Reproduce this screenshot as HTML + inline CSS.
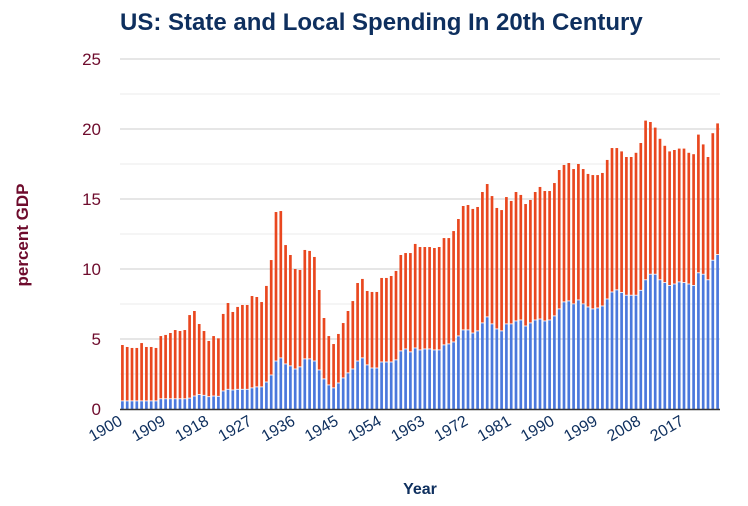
<!DOCTYPE html>
<html><head><meta charset="utf-8"><style>
html,body{margin:0;padding:0;background:#fff;}
svg{display:block;font-family:"Liberation Sans",Arial,sans-serif;}
</style></head><body>
<svg id="chart" width="748" height="506" viewBox="0 0 748 506">
<text x="120" y="30" font-size="24" font-weight="bold" fill="#0e2f5e">US: State and Local Spending In 20th Century</text>
<g id="grid"></g>
<g id="bars"></g>
<g id="yticks"></g>
<g id="xticks"></g>
<text transform="translate(28,235) rotate(-90)" text-anchor="middle" font-size="17" font-weight="bold" fill="#6e0b2c">percent GDP</text>
<text x="420" y="494" text-anchor="middle" font-size="16" font-weight="bold" fill="#0e2f5e">Year</text>
</svg>
<script>
const startYear = 1900;
const totalValues = [4.57,4.43,4.36,4.36,4.71,4.43,4.43,4.36,5.21,5.29,5.43,5.64,5.57,5.64,6.71,7.0,6.07,5.57,4.86,5.21,
5.05,6.79,7.57,6.93,7.29,7.43,7.43,8.07,8.0,7.64,8.79,10.64,14.07,14.14,11.71,11.0,10.0,9.93,11.36,11.29,
10.86,8.5,6.5,5.21,4.64,5.36,6.14,7.0,7.71,9.0,9.29,8.43,8.36,8.36,9.36,9.36,9.5,9.86,11.0,11.14,
11.14,11.79,11.57,11.57,11.57,11.5,11.57,12.21,12.21,12.71,13.57,14.5,14.57,14.29,14.43,15.5,16.07,15.21,14.36,14.21,
15.14,14.86,15.5,15.29,14.64,14.93,15.5,15.86,15.57,15.57,16.14,17.07,17.43,17.57,17.14,17.5,17.14,16.79,16.71,16.71,
16.86,17.79,18.64,18.64,18.4,18.0,18.0,18.3,19.0,20.6,20.5,20.1,19.3,18.8,18.4,18.5,18.6,18.6,18.3,18.2,
19.6,18.9,18.0,19.7,20.4];
const blueValues = [0.55,0.55,0.55,0.55,0.55,0.55,0.55,0.55,0.7,0.7,0.7,0.7,0.7,0.7,0.75,0.9,1.0,0.95,0.85,0.9,
0.88,1.26,1.38,1.33,1.38,1.38,1.38,1.48,1.55,1.55,1.9,2.4,3.4,3.62,3.19,3.05,2.83,2.98,3.55,3.55,
3.4,2.76,2.12,1.69,1.48,1.83,2.19,2.55,2.83,3.4,3.62,3.12,2.9,2.9,3.33,3.33,3.33,3.48,4.12,4.26,
4.05,4.33,4.19,4.26,4.26,4.19,4.19,4.55,4.62,4.76,5.19,5.62,5.62,5.4,5.55,6.12,6.55,6.05,5.69,5.55,
6.05,6.05,6.26,6.33,5.9,6.12,6.33,6.4,6.26,6.33,6.62,7.12,7.62,7.69,7.48,7.76,7.48,7.26,7.12,7.19,
7.33,7.83,8.33,8.48,8.3,8.1,8.1,8.1,8.45,9.2,9.6,9.6,9.2,9.0,8.8,8.9,9.05,9.0,8.9,8.8,
9.7,9.6,9.2,10.6,11.0];
const yTicks = [0,5,10,15,20,25];
const minorTicks = [2.5,7.5,12.5,17.5,22.5];
const xLabelEvery = 9;

const NS = "http://www.w3.org/2000/svg";
const X0 = 120, X1 = 720, Y0 = 409, Y1 = 59, YMAX = 25;
const n = totalValues.length;
const step = (X1 - X0) / n;
function xScale(i){ return X0 + i * step; }
function yScale(v){ return Y0 - (v / YMAX) * (Y0 - Y1); }
function mk(tag, attrs, parent){ const e = document.createElementNS(NS, tag); for (const k in attrs) e.setAttribute(k, attrs[k]); parent.appendChild(e); return e; }

const grid = document.getElementById('grid');
minorTicks.forEach(v => {
  const l = mk('line', {x1:X0, x2:X1, y1:yScale(v), y2:yScale(v), stroke:'#ebebeb', 'stroke-width':1}, grid);
  
  
});
const yt = document.getElementById('yticks');
yTicks.forEach(v => {
  if (v > 0) {
    const l = mk('line', {x1:X0, x2:X1, y1:yScale(v), y2:yScale(v), stroke:'#cccccc', 'stroke-width':1}, grid);
    
    
  }
  const t = mk('text', {x:101, y:yScale(v)+6, 'text-anchor':'end', 'font-size':17, fill:'#6e0b2c'}, yt);
  t.textContent = v;
  
  
});

const bars = document.getElementById('bars');
const bw = step * 0.56;
for (let i = 0; i < n; i++) {
  const x = xScale(i) + (step - bw) / 2;
  const yb = yScale(blueValues[i]);
  const yt2 = yScale(totalValues[i]);
  const b = mk('rect', {x:x, y:yb, width:bw, height:Y0 - yb, fill:'#4a78dc'}, bars);
  
  
  const r = mk('rect', {x:x, y:yt2, width:bw, height:Math.max(0, yb - yt2 - 0.8), fill:'#e9471f'}, bars);
  
  
}
const axis = mk('line', {x1:X0, x2:X1, y1:Y0+0.5, y2:Y0+0.5, stroke:'#333', 'stroke-width':1.5}, bars);



const xt = document.getElementById('xticks');
for (let i = 0; i < n; i += xLabelEvery) {
  const cx = xScale(i) + step / 2 + 1;
  const t = mk('text', {x:0, y:0, 'text-anchor':'end', 'font-size':16, fill:'#0e2f5e', transform:'translate(' + cx + ',424) rotate(-30)'}, xt);
  t.textContent = startYear + i;
  
  
}
</script>
</body></html>
